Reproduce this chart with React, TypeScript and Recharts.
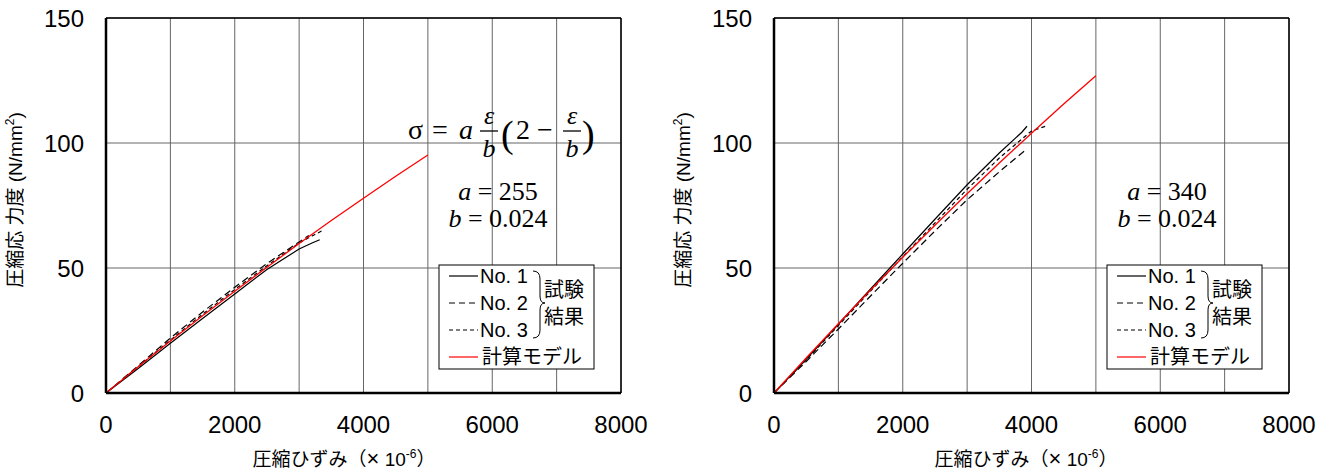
import React from 'react'
import { CartesianGrid, Line, LineChart, ReferenceLine, XAxis, YAxis } from 'recharts'

// strain in ×10^-6, stress in N/mm2
const strainTicks = [0, 1000, 2000, 3000, 4000, 5000, 6000, 7000, 8000]
const stressTicks = [0, 50, 100, 150]

const modelStrain = [0, 500, 1000, 1500, 2000, 2500, 3000, 3500, 4000, 4500, 5000]
const leftModelStress = [0, 10.5, 20.8, 30.9, 40.7, 50.3, 59.8, 69.0, 77.9, 86.7, 95.2]
const rightModelStress = [0, 14.0, 27.7, 41.2, 54.3, 67.1, 79.7, 92.0, 103.9, 115.6, 126.9]

const leftNo1Strain = [0, 500, 1000, 1500, 2000, 2500, 3000, 3200, 3320]
const leftNo1Stress = [0, 9.8, 19.9, 29.8, 39.6, 49.4, 57.6, 60.0, 61.3]
const leftNo2Strain = [0, 500, 1000, 1500, 2000, 2500, 3000, 3150]
const leftNo2Stress = [0, 10.9, 22.0, 32.4, 42.3, 51.8, 60.4, 63.0]
const leftNo3Strain = [0, 500, 1000, 1500, 2000, 2500, 3000, 3200, 3380]
const leftNo3Stress = [0, 10.5, 21.2, 31.5, 41.4, 50.9, 60.0, 62.8, 65.2]

const rightNo1Strain = [0, 500, 1000, 1500, 2000, 2500, 3000, 3500, 3850, 3930]
const rightNo1Stress = [0, 13.5, 27.5, 41.6, 55.6, 69.5, 83.3, 96.0, 104.3, 106.7]
const rightNo2Strain = [0, 500, 1000, 1500, 2000, 2500, 3000, 3500, 3900]
const rightNo2Stress = [0, 12.6, 25.6, 38.8, 51.9, 64.8, 77.3, 88.5, 97.0]
const rightNo3Strain = [0, 500, 1000, 1500, 2000, 2500, 3000, 3500, 4000, 4250]
const rightNo3Stress = [0, 13.2, 27.0, 40.8, 54.5, 68.0, 81.5, 94.0, 104.8, 107.0]

const seriesNames = ['No. 1', 'No. 2', 'No. 3', '計算モデル']

const toPoints = (xs: number[], ys: number[]) => xs.map((x, i) => ({ x, y: ys[i] }))

const sansFont = '"Liberation Sans", Arial, "Noto Sans CJK JP", sans-serif'
const serifFont = '"Liberation Serif", "Times New Roman", serif'
const gridColor = '#666'

interface PanelProps {
  left: number
  a: number
  model: number[]
  no1: { x: number; y: number }[]
  no2: { x: number; y: number }[]
  no3: { x: number; y: number }[]
  showFormula: boolean
  xLabelCenter: number
  paramCenter: number
}

const Formula = () => (
  <g fontFamily={serifFont} fill="#000">
    <text x={408} y={139} fontSize={28}>σ</text>
    <text x={432} y={139} fontSize={28}>=</text>
    <text x={459} y={139} fontSize={28} fontStyle="italic">a</text>
    <text x={489} y={124} fontSize={26} fontStyle="italic" textAnchor="middle">ε</text>
    <line x1={480} x2={498} y1={131} y2={131} stroke="#000" strokeWidth={1.3} />
    <text x={489} y={157} fontSize={26} fontStyle="italic" textAnchor="middle">b</text>
    <text x={501} y={147} fontSize={38}>(</text>
    <text x={516} y={139} fontSize={28}>2</text>
    <text x={537} y={139} fontSize={28}>−</text>
    <text x={572} y={124} fontSize={26} fontStyle="italic" textAnchor="middle">ε</text>
    <line x1={563} x2={581} y1={131} y2={131} stroke="#000" strokeWidth={1.3} />
    <text x={572} y={157} fontSize={26} fontStyle="italic" textAnchor="middle">b</text>
    <text x={582} y={147} fontSize={38}>)</text>
  </g>
)

const LegendBox = () => {
  const x0 = 439
  const y0 = 265
  const rows = [276, 303, 330, 357]
  const dashes = [undefined, '6 4', '4 3', undefined]
  const colors = ['#000', '#000', '#000', '#ff0000']
  return (
    <g fontFamily={sansFont} fontSize={20} fill="#000">
      <rect x={x0} y={y0} width={155} height={104} fill="#fff" stroke="#000" strokeWidth={1} />
      {seriesNames.map((name, i) => (
        <g key={name}>
          <line x1={449} x2={478} y1={rows[i]} y2={rows[i]} stroke={colors[i]} strokeWidth={1.2} strokeDasharray={dashes[i]} />
          <text x={i === 3 ? 482 : 480} y={rows[i] + 7}>{name}</text>
        </g>
      ))}
      <path
        d="M 533 271 Q 540 271 540 279 L 540 296 Q 540 303 545 303 Q 540 303 540 310 L 540 330 Q 540 338 533 338"
        fill="none"
        stroke="#000"
        strokeWidth={1}
      />
      <text x={544} y={297}>試験</text>
      <text x={544} y={324}>結果</text>
    </g>
  )
}

const Panel = ({ left, a, model, no1, no2, no3, showFormula, xLabelCenter, paramCenter }: PanelProps) => {
  const modelPts = toPoints(modelStrain, model)
  return (
    <div style={{ position: 'absolute', left, top: 0, width: 660, height: 474 }}>
      <LineChart width={660} height={474} margin={{ top: 18, right: 39, left: 46, bottom: 51 }}>
        <CartesianGrid stroke={gridColor} strokeWidth={1} />
        <XAxis
          dataKey="x"
          type="number"
          domain={[0, 8000]}
          ticks={strainTicks}
          interval={0}
          allowDataOverflow
          tickLine={false}
          tickMargin={17}
          tickFormatter={(v: number) => (v % 2000 === 0 ? String(v) : '')}
          axisLine={{ stroke: '#000', strokeWidth: 2.5 }}
          tick={{ fill: '#000', fontSize: 24, fontFamily: sansFont }}
          height={30}
        />
        <YAxis
          dataKey="y"
          type="number"
          domain={[0, 150]}
          ticks={stressTicks}
          interval={0}
          allowDataOverflow
          tickLine={false}
          tickMargin={16}
          axisLine={{ stroke: '#000', strokeWidth: 2.5 }}
          tick={{ fill: '#000', fontSize: 24, fontFamily: sansFont }}
          width={60}
        />
        <ReferenceLine y={150} stroke="#000" strokeWidth={1.5} />
        <ReferenceLine x={8000} stroke="#000" strokeWidth={1.5} />
        <Line data={no1} dataKey="y" stroke="#000" strokeWidth={1.2} dot={false} isAnimationActive={false} />
        <Line data={no2} dataKey="y" stroke="#000" strokeWidth={1.2} strokeDasharray="7 4" dot={false} isAnimationActive={false} />
        <Line data={no3} dataKey="y" stroke="#000" strokeWidth={1.2} strokeDasharray="4 3" dot={false} isAnimationActive={false} />
        <Line data={modelPts} dataKey="y" stroke="#ff0000" strokeWidth={1.3} dot={false} isAnimationActive={false} />
      </LineChart>
      <svg width={660} height={474} style={{ position: 'absolute', left: 0, top: 0, pointerEvents: 'none' }}>
        {showFormula && <Formula />}
        <g fontFamily={serifFont} fontSize={26} fill="#000" textAnchor="middle">
          <text x={paramCenter} y={200}>
            <tspan fontStyle="italic">a</tspan> = {a}
          </text>
          <text x={paramCenter} y={227}>
            <tspan fontStyle="italic">b</tspan> = 0.024
          </text>
        </g>
        <LegendBox />
        <text
          x={xLabelCenter}
          y={466}
          textAnchor="middle"
          fontFamily={sansFont}
          fontSize={19}
          fill="#000"
        >
          圧縮ひずみ（<tspan fontSize={22}>×</tspan> 10<tspan fontSize={12} dy={-8}>-6</tspan><tspan dy={8}>）</tspan>
        </text>
        <text
          transform="translate(22 200) rotate(-90)"
          textAnchor="middle"
          fontFamily={sansFont}
          fontSize={19}
          fill="#000"
        >
          圧縮応 力度 (N/mm<tspan fontSize={12} dy={-8}>2</tspan><tspan dy={8}>)</tspan>
        </text>
      </svg>
    </div>
  )
}

export default function App() {
  return (
    <div style={{ position: 'absolute', left: 0, top: 0, width: 1333, height: 474, background: '#fff' }}>
      <Panel
        left={0}
        a={255}
        model={leftModelStress}
        no1={toPoints(leftNo1Strain, leftNo1Stress)}
        no2={toPoints(leftNo2Strain, leftNo2Stress)}
        no3={toPoints(leftNo3Strain, leftNo3Stress)}
        showFormula
        xLabelCenter={344}
        paramCenter={498}
      />
      <Panel
        left={668}
        a={340}
        model={rightModelStress}
        no1={toPoints(rightNo1Strain, rightNo1Stress)}
        no2={toPoints(rightNo2Strain, rightNo2Stress)}
        no3={toPoints(rightNo3Strain, rightNo3Stress)}
        showFormula={false}
        xLabelCenter={358}
        paramCenter={499}
      />
    </div>
  )
}
